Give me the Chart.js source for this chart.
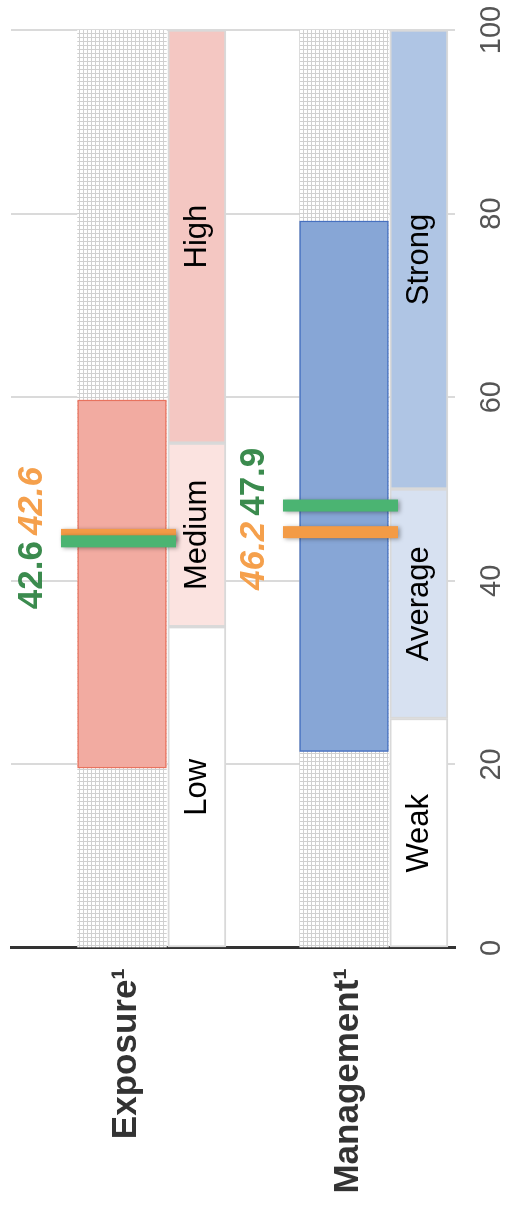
<!DOCTYPE html>
<html>
<head>
<meta charset="utf-8">
<script src="https://cdn.jsdelivr.net/npm/chart.js@4.4.0/dist/chart.umd.min.js"></script>
<style>
  html, body { margin: 0; padding: 0; background: #fff; overflow: hidden; width: 505px; height: 1217px; }
  /* chart is drawn as a horizontal bar chart, then turned a quarter to the left */
  #wrap { position: absolute; left: 0; top: 0; width: 1217px; height: 505px;
          transform-origin: 0 0; transform: translateY(1217px) rotate(-90deg); }
</style>
</head>
<body>
<div id="wrap"><canvas id="chart" width="1217" height="505"></canvas></div>
<script>
const categories = ["Exposure\u00b9", "Management\u00b9"];

// shaded range per category
const rangeLow = [19.6, 21.4];
const rangeHigh = [59.7, 79.2];

// rating scale beside each bar
const levelNames = [["Low", "Medium", "High"], ["Weak", "Average", "Strong"]];
const levelBreaks = [[0, 35, 55, 100], [0, 25, 50, 100]];
const levelColors = [["#ffffff", "#fbe3e0", "#f4c7c2"], ["#ffffff", "#d7e1f1", "#afc5e4"]];

// marker positions and the scores printed next to them
const greenMarker = [44.3, 48.2];
const orangeMarker = [45.0, 45.3];
const greenScore = ["42.6", "47.9"];
const orangeScore = ["42.6", "46.2"];

const FONT = '"Liberation Sans", Arial, sans-serif';
const LEVEL_SHIFT = 0.337;   // rating column sits right of the main bar
const MARK_SHIFT = -0.016;

function dots() {
  const c = document.createElement("canvas");
  c.width = 4; c.height = 4;
  const g = c.getContext("2d");
  g.fillStyle = "#d0d0d0";
  g.fillRect(0, 0, 4, 4);
  g.fillStyle = "#ffffff";
  g.fillRect(0, 0, 3, 3);
  return g.createPattern(c, "repeat");
}

const datasets = [];

// markers (lowest order = drawn on top)
datasets.push({
  type: "line", label: "green", order: 0, showLine: false,
  data: greenMarker.map((v, i) => ({ x: v, y: i + MARK_SHIFT })),
  pointStyle: "line", pointRadius: 57.5, pointHoverRadius: 57.5,
  pointBorderWidth: 12, pointBorderColor: "#4bb472", pointRotation: 90
});
datasets.push({
  type: "line", label: "orange", order: 1, showLine: false,
  data: orangeMarker.map((v, i) => ({ x: v, y: i + MARK_SHIFT })),
  pointStyle: "line", pointRadius: 57.5, pointHoverRadius: 57.5,
  pointBorderWidth: 12, pointBorderColor: "#f39b46", pointRotation: 90
});

// main range bar
datasets.push({
  label: "range", order: 2, grouped: false, barThickness: 89,
  data: categories.map((c, i) => ({ x: [rangeLow[i], rangeHigh[i]], y: i })),
  backgroundColor: ["#f2aba1", "#87a6d6"],
  borderColor: ["#e8735f", "#4670c0"],
  borderWidth: 1.5, borderSkipped: false
});

// rating column segments
for (let k = 0; k < 3; k++) {
  datasets.push({
    label: "level" + k, order: 3, grouped: false, barThickness: 58,
    data: categories.map((c, i) => ({ x: [levelBreaks[i][k], levelBreaks[i][k + 1]], y: i + LEVEL_SHIFT })),
    backgroundColor: categories.map((c, i) => levelColors[i][k]),
    borderColor: "#d9d9d9", borderWidth: 2, borderSkipped: false
  });
}

// dotted full-scale background
datasets.push({
  label: "bg", order: 4, grouped: false, barThickness: 89,
  data: categories.map((c, i) => ({ x: [0, 100], y: i })),
  backgroundColor: dots(), borderWidth: 0
});

const markerShadow = {
  id: "markerShadow",
  beforeDatasetDraw(chart, args) {
    if (args.index > 1) return;
    const ctx = chart.ctx;
    ctx.save();
    ctx.shadowColor = "rgba(0,0,0,0.35)";
    ctx.shadowBlur = 4;
    ctx.shadowOffsetX = -1;
    ctx.shadowOffsetY = 2;
  },
  afterDatasetDraw(chart, args) {
    if (args.index > 1) return;
    chart.ctx.restore();
  }
};

const textLabels = {
  id: "textLabels",
  afterDatasetsDraw(chart) {
    const { ctx, scales: { x, y } } = chart;
    ctx.save();

    // level names inside the rating column
    ctx.font = "31px " + FONT;
    ctx.fillStyle = "#000";
    ctx.textAlign = "center";
    ctx.textBaseline = "middle";
    levelNames.forEach((names, i) => {
      names.forEach((n, k) => {
        const mid = (levelBreaks[i][k] + levelBreaks[i][k + 1]) / 2;
        ctx.fillText(n, x.getPixelForValue(mid), y.getPixelForValue(i + LEVEL_SHIFT) + 1);
      });
    });

    // scores above each category
    ctx.textAlign = "left";
    ctx.textBaseline = "alphabetic";
    const gap = 6;
    categories.forEach((c, i) => {
      const items = [
        { v: greenMarker[i], t: greenScore[i], font: "bold 35px " + FONT, color: "#3b8b4e" },
        { v: orangeMarker[i], t: orangeScore[i], font: "italic bold 35px " + FONT, color: "#f5a04c" }
      ].sort((a, b) => a.v - b.v);
      items.forEach(it => { ctx.font = it.font; it.w = ctx.measureText(it.t).width; });
      const total = items[0].w + gap + items[1].w;
      let px = x.getPixelForValue((greenMarker[i] + orangeMarker[i]) / 2) - total / 2;
      const base = y.getPixelForValue(i) - 80;
      items.forEach(it => {
        ctx.font = it.font;
        ctx.fillStyle = it.color;
        ctx.fillText(it.t, px, base);
        px += it.w + gap;
      });
    });
    ctx.restore();
  }
};

function noPad(s) {
  s.paddingTop = 0; s.paddingBottom = 0; s.paddingLeft = 0; s.paddingRight = 0;
}

new Chart(document.getElementById("chart"), {
  type: "bar",
  data: { datasets },
  options: {
    indexAxis: "y",
    responsive: false,
    devicePixelRatio: 1,
    animation: false,
    events: [],
    layout: { autoPadding: false, padding: { top: 11, right: 30, left: 0, bottom: 0 } },
    plugins: { legend: { display: false }, tooltip: { enabled: false } },
    scales: {
      x: {
        type: "linear", min: 0, max: 100,
        ticks: { stepSize: 20, color: "#555", font: { size: 29, family: FONT }, padding: 20, maxRotation: 0 },
        grid: { color: "#dadada", lineWidth: 2, drawTicks: false },
        border: { display: false },
        afterFit: s => { s.height = 50; noPad(s); }
      },
      y: {
        type: "linear", reverse: true, min: -0.5, max: 1.5, offset: false,
        afterBuildTicks: s => { s.ticks = categories.map((c, i) => ({ value: i })); },
        ticks: {
          callback: v => categories[v],
          color: "#333", font: { size: 35, weight: "bold", family: FONT },
          padding: 20, autoSkip: false, labelOffset: 4
        },
        grid: { drawOnChartArea: false, drawTicks: false, offset: false },
        border: { display: true, color: "#333", width: 3 },
        afterFit: s => { s.width = 269; noPad(s); }
      }
    }
  },
  plugins: [markerShadow, textLabels]
});
</script>
</body>
</html>
